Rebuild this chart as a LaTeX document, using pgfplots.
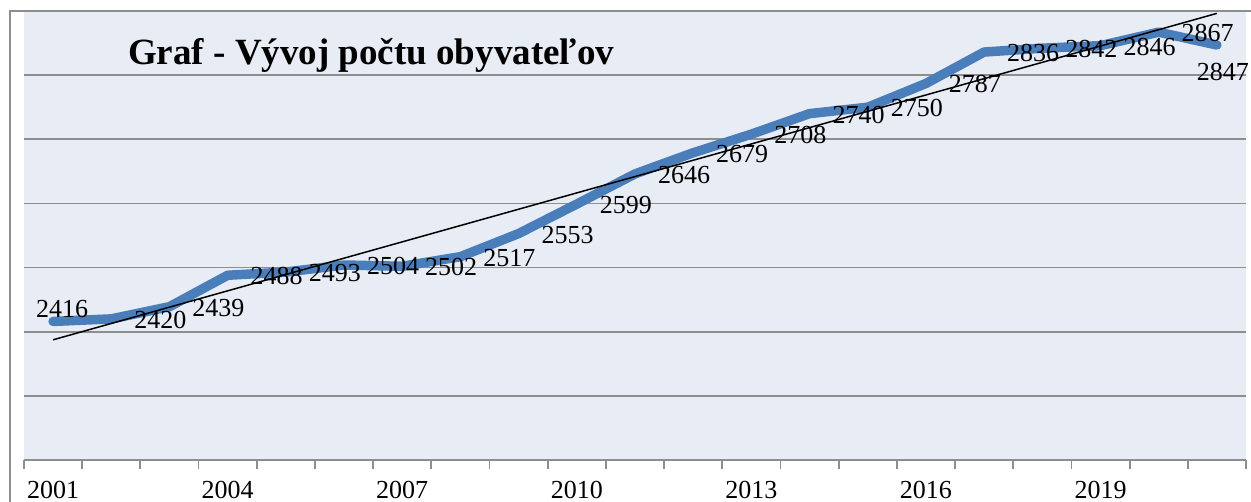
\documentclass[border=0pt]{standalone}
\usepackage{fontspec}
\setmainfont{Liberation Serif}
\usepackage{pgfplots}
\usepackage{pgfplotstable}
\pgfplotsset{compat=1.18}
\definecolor{plotbg}{HTML}{E8ECF4}
\definecolor{xlblue}{HTML}{4A7EBB}
\definecolor{gridgray}{HTML}{8E8E8E}

% year, population, label offset (dx, dy) in pt
\pgfplotstableread{
year pop dx dy
2001 2416 9 12
2002 2420 49 -1
2003 2439 49 -1
2004 2488 49 -1
2005 2493 49 -1
2006 2504 49 -1
2007 2502 49 -1
2008 2517 49 -1
2009 2553 49 -1
2010 2599 49 -1
2011 2646 49 -1
2012 2679 49 -1
2013 2708 49 -1
2014 2740 49 -1
2015 2750 49 -1
2016 2787 49 -1
2017 2836 49 -1
2018 2842 49 -1
2019 2846 49 -1
2020 2867 49 -1
2021 2847 6 -27
}\popdata

\begin{document}
\begin{tikzpicture}
\useasboundingbox (-24pt,-42pt) rectangle (1227pt,460pt);
\begin{axis}[
    at={(0,0)}, anchor=south west,
    scale only axis,
    width=1222pt, height=449pt,
    xmin=2000.5, xmax=2021.5,
    ymin=2200, ymax=2900,
    axis background/.style={fill=plotbg},
    axis x line*=bottom, axis y line*=left,
    x axis line style={gridgray, line width=1.8pt},
    y axis line style={draw=none},
    ytick={2300,2400,2500,2600,2700,2800,2900},
    yticklabels={},
    ytick style={draw=none},
    ymajorgrids,
    major grid style={gridgray, line width=1.8pt},
    xtick={2000.5,2001.5,2002.5,2003.5,2004.5,2005.5,2006.5,2007.5,2008.5,2009.5,2010.5,2011.5,2012.5,2013.5,2014.5,2015.5,2016.5,2017.5,2018.5,2019.5,2020.5,2021.5},
    xticklabels={},
    tick align=outside,
    major tick length=9pt,
    xtick style={gridgray, line width=1.8pt},
    extra x ticks={2001,2004,2007,2010,2013,2016,2019},
    extra x tick labels={2001,2004,2007,2010,2013,2016,2019},
    extra x tick style={
        major tick length=0pt,
        xtick style={draw=none},
        xticklabel style={font=\fontsize{26}{26}\selectfont, anchor=north, inner sep=0pt, yshift=-21pt},
    },
    clip=false,
]
\addplot[xlblue, line width=9.5pt, line cap=round, line join=round,
    visualization depends on={\thisrow{dx} \as \dx},
    visualization depends on={\thisrow{dy} \as \dy},
    nodes near coords={\pgfmathprintnumber[fixed,precision=0,1000 sep={},assume math mode=true]{\pgfplotspointmeta}},
    every node near coord/.append style={anchor=center, color=black, inner sep=0pt,
        font=\fontsize{26}{26}\selectfont, xshift=\dx pt, yshift=\dy pt},
] table[x=year, y=pop] {\popdata};
% linear trend line
\addplot[black, line width=1.5pt] coordinates {(2001,2387.4) (2021,2896.3)};
\end{axis}
\draw[gridgray, line width=2pt] (-14pt,-60pt) -- (-14pt,449pt) -- (1240pt,449pt);
\node[anchor=base west, inner sep=0pt, font=\fontsize{37}{37}\selectfont\bfseries] at (104pt,395pt) {Graf - Vývoj počtu obyvateľov};
\end{tikzpicture}
\end{document}
